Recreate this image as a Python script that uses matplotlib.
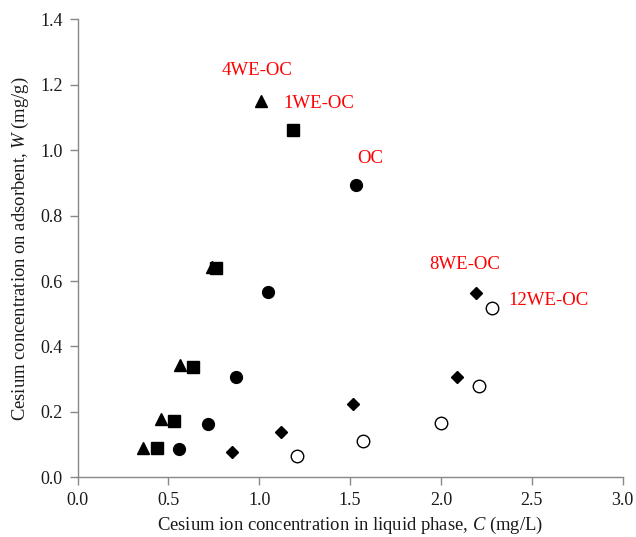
import matplotlib
matplotlib.use("Agg")
import matplotlib.pyplot as plt

plt.rcParams['font.family'] = ['Liberation Serif', 'DejaVu Serif']
plt.rcParams['mathtext.fontset'] = 'custom'
plt.rcParams['mathtext.it'] = 'Liberation Serif:italic'
plt.rcParams['mathtext.rm'] = 'Liberation Serif'

# Data: (C, W) for each adsorbent
oc_x = [0.560, 0.720, 0.871, 1.050, 1.531]
oc_y = [0.087, 0.163, 0.307, 0.566, 0.894]
we1_x = [0.439, 0.529, 0.634, 0.762, 1.188]
we1_y = [0.091, 0.173, 0.337, 0.640, 1.061]
we4_x = [0.359, 0.461, 0.562, 0.739, 1.010]
we4_y = [0.091, 0.178, 0.344, 0.642, 1.150]
we8_x = [0.849, 1.120, 1.518, 2.090, 2.191]
we8_y = [0.078, 0.139, 0.225, 0.308, 0.563]
we12_x = [1.210, 1.571, 2.001, 2.211, 2.281]
we12_y = [0.066, 0.110, 0.165, 0.278, 0.518]

labels = ["4WE-OC", "1WE-OC", "OC", "8WE-OC", "12WE-OC"]
label_x = [0.989, 1.133, 1.540, 1.936, 2.371]
label_y = [1.244, 1.143, 0.976, 0.650, 0.541]
label_ha = ["center", "left", "left", "left", "left"]

x_ticks = [0.0, 0.5, 1.0, 1.5, 2.0, 2.5, 3.0]
y_ticks = [0.0, 0.2, 0.4, 0.6, 0.8, 1.0, 1.2, 1.4]

fig = plt.figure(figsize=(6.36, 5.37), dpi=100)
ax = fig.add_axes([0.1219, 0.1112, 0.979 - 0.1219, 0.964 - 0.1112])

ax.plot(oc_x, oc_y, 'o', color='black', markersize=8.5, linestyle='none')
ax.plot(we1_x, we1_y, 's', color='black', markersize=8, linestyle='none')
ax.plot(we4_x, we4_y, '^', color='black', markersize=8.5, linestyle='none')
ax.plot(we8_x, we8_y, 'D', color='black', markersize=6, linestyle='none')
ax.plot(we12_x, we12_y, 'o', markerfacecolor='white', markeredgecolor='black',
        markeredgewidth=1.0, markersize=9, linestyle='none')

for t, lx, ly, ha in zip(labels, label_x, label_y, label_ha):
    ax.text(lx, ly, t, color='red', fontsize=13.5, ha=ha, va='center')

ax.set_xlim(0, 3.0)
ax.set_ylim(0, 1.4)
ax.set_xticks(x_ticks)
ax.set_yticks(y_ticks)
ax.set_xticklabels([f"{v:.1f}" for v in x_ticks])
ax.set_yticklabels([f"{v:.1f}" for v in y_ticks])

for s in ['top', 'right']:
    ax.spines[s].set_visible(False)
for s in ['left', 'bottom']:
    ax.spines[s].set_color('#888888')
    ax.spines[s].set_linewidth(1.0)
ax.tick_params(axis='both', direction='out', length=5.5, color='#888888',
               labelsize=13, labelcolor='#1a1a1a', width=1.0, pad=5)

ax.set_xlabel("Cesium ion concentration in liquid phase, $\\mathit{C}$ (mg/L)",
              fontsize=13.4, color='#1a1a1a', labelpad=4)
ax.set_ylabel("Cesium concentration on adsorbent, $\\mathit{W}$ (mg/g)",
              fontsize=13.4, color='#1a1a1a', labelpad=7)

fig.savefig("out.png", dpi=100)
